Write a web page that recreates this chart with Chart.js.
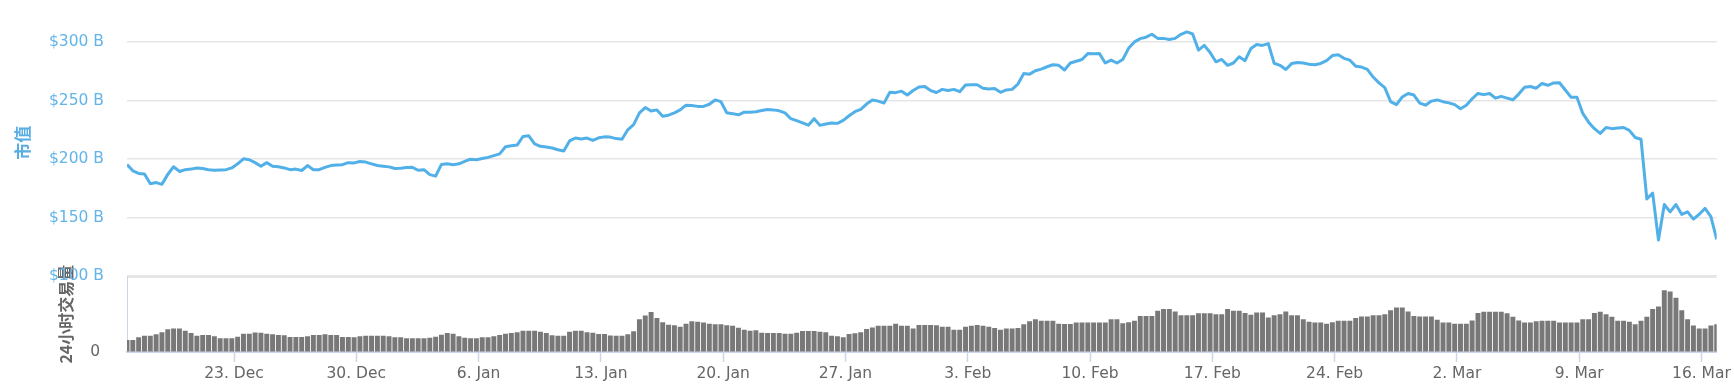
<!DOCTYPE html>
<html>
<head>
<meta charset="utf-8">
<script src="https://cdn.jsdelivr.net/npm/chart.js@4.4.1/dist/chart.umd.min.js"></script>
<style>
  html, body { margin: 0; padding: 0; background: #fff; }
  #wrap { width: 1734px; height: 389px; }
</style>
</head>
<body>
<div id="wrap"><canvas id="capChart"></canvas></div>
<script>
// first sample is 16 Dec 21:00, then one every 8 hours (x in days from 17 Dec)
const START_DAY = -0.125;
const STEP_DAY = 1 / 3;

// 市值, in $ B
const marketCap = [
    195.5, 190, 187.8, 187.3, 179, 180, 178.5, 187, 193.5, 189.5,
    191, 191.5, 192.5, 192, 191, 190.5, 190.8, 191, 192.5, 196,
    200.3, 199.5, 197, 194, 197, 194, 193.5, 192.5, 191, 191.5,
    190.3, 194.5, 191, 191, 193, 194.5, 195, 195.3, 197,
    196.8, 198, 197.5, 196, 194.6, 194, 193.4, 192, 192.3, 192.8,
    193, 190.5, 191, 186.8, 185.5, 195.5, 196, 195.3, 196, 198,
    200, 199.5, 200.5, 201.5, 203, 204.5, 210.5, 211.4, 212, 219.3,
    219.9, 213, 210.9, 210.3, 209.5, 208, 207, 215.5, 218,
    217.2, 218, 216, 218.2, 219, 218.8, 217.5, 217, 225, 229.5,
    239.5, 244, 241, 242, 236.5, 237.5, 239.5, 242, 246, 245.8,
    245, 245, 246.8, 250.5, 249, 239.5, 238.8, 237.8, 240, 240,
    240.5, 241.4, 242.3, 242, 241.2, 239.5, 234.5, 232.8, 231, 229,
    234.5, 228.8, 230, 230.8, 230.5, 233, 237, 240.5, 242.5, 247,
    250.5, 249.5, 247.8, 257, 256.7, 258, 254.7, 258.5, 261.5, 262,
    258.5, 256.8, 259.5, 258.5, 259.5, 257.5, 263.2, 263.5, 263.5, 260.5,
    259.8, 260.2, 257, 259, 259.5, 264, 273, 272.5, 275.4,
    276.8, 278.8, 280.5, 280, 276, 282, 283.5, 285, 290, 289.8,
    290, 282, 284.5, 282, 285, 294.5, 300, 302.8, 304, 306.5,
    303, 303, 302, 303, 306.5, 308.5, 306.8, 293, 297, 291,
    283, 285, 280, 282, 287.3, 284, 294.3, 297.8, 297, 298.5,
    281.8, 280, 276.5, 281.5, 282.5, 282, 281, 280.5, 281.6, 284,
    288.3, 289, 286, 284.4, 279.3, 278.5, 276.5, 270, 265, 261,
    249, 246.5, 253, 256, 254.7, 247.8, 246, 249.5, 250.5, 249,
    248, 246.5, 243, 246, 251.5, 256, 255, 256, 252, 253.5,
    252, 250.6, 255.5, 261.3, 262, 260.5, 264.5, 263, 265, 265.2,
    259, 252.7, 252.7, 239, 231.5, 226, 222, 227, 226, 226.5,
    227, 224.5, 218.5, 217, 166, 171, 131, 161.3, 155, 161.3,
    152.8, 155, 148.8, 153, 158, 151, 131.6
];

// 24小时交易量, in $ B
const volume24h = [
    47, 47, 58, 64, 64.5, 70, 78, 90, 93, 93,
    84, 75, 64.5, 67, 67, 62, 54, 54, 54, 60,
    72, 72, 77, 76, 72, 70, 67, 66, 59, 59,
    59, 62, 67, 67, 70, 67, 67, 59, 59,
    58, 62, 64.5, 64.5, 64.5, 64.5, 62, 58, 58, 54,
    54, 54, 54, 56, 60, 68, 75, 72, 62, 56,
    54, 54, 58, 58, 62, 67, 72, 75, 78, 84,
    84, 84, 80, 75, 66, 64.5, 64.5, 80, 84,
    84, 78, 76, 71, 71, 65, 64.5, 64.5, 70, 82,
    130, 145, 158, 135, 118, 108, 106, 100, 112, 122,
    120, 117, 112, 110, 110, 106, 104, 96, 88, 84,
    86, 76, 75, 75, 75, 72, 72, 76, 83, 83,
    83, 80, 77.6, 64.5, 62, 58, 71, 74, 77.6, 90.8,
    97, 104, 104, 104, 112, 104, 104, 93, 106.6, 106.6,
    106.6, 106, 100, 100, 88, 88, 100, 104, 106.6, 104,
    100, 95, 88, 93, 93, 95, 110, 122, 130,
    124, 124, 124, 112, 110.5, 110.5, 117, 117, 117, 117,
    117, 117, 130, 130, 114, 118, 124, 143, 143, 143,
    163, 170, 170, 160, 146, 146, 146, 154, 154, 154,
    150, 150, 170, 163, 163, 155, 148, 157, 157, 137,
    146, 150, 160, 146, 146, 130, 120, 117, 117, 112,
    118, 124, 124, 124, 135, 141, 141, 146, 146, 150,
    165, 176, 176, 160, 143, 141, 141, 141, 128, 117,
    117, 112, 112, 112, 125, 155, 159, 159, 159, 159,
    154, 140, 125, 117, 117, 122, 124, 124, 124, 117,
    117, 117, 117, 130, 130, 155, 159, 150, 140, 124,
    124, 120, 110, 124, 140, 170, 180, 245, 240, 215,
    165, 130, 105, 93, 93, 105, 110
];

// x 轴刻度 (days from 17 Dec)
const tickDays = [6, 13, 20, 27, 34, 41, 48, 55, 62, 69, 76, 83, 90];
const tickLabels = ['23. Dec', '30. Dec', '6. Jan', '13. Jan', '20. Jan', '27. Jan', '3. Feb',
    '10. Feb', '17. Feb', '24. Feb', '2. Mar', '9. Mar', '16. Mar'];

const capTicks = [100, 150, 200, 250, 300];
const volumeTicks = [0];

const labelFont = { family: 'DejaVu Sans', size: 15.5 };
const cjkFont = '"Noto Sans CJK SC", "DejaVu Sans", sans-serif';

function toPoints(values) {
    return values.map((v, i) => ({ x: START_DAY + i * STEP_DAY, y: v }));
}

const ctx = document.getElementById('capChart').getContext('2d');

new Chart(ctx, {
    type: 'bar',
    data: {
        datasets: [{
            type: 'line',
            label: '市值',
            data: toPoints(marketCap),
            yAxisID: 'y',
            borderColor: '#52b0e8',
            borderWidth: 3,
            borderJoinStyle: 'round',
            pointRadius: 0,
            tension: 0,
            fill: false
        }, {
            type: 'bar',
            label: '24小时交易量',
            data: toPoints(volume24h),
            yAxisID: 'y2',
            backgroundColor: '#787878',
            borderWidth: 0,
            barPercentage: 0.85,
            categoryPercentage: 1
        }]
    },
    options: {
        responsive: true,
        maintainAspectRatio: false,
        animation: false,
        layout: {
            padding: { left: 0, right: 17, top: 0, bottom: 2.5 }
        },
        plugins: {
            legend: { display: false },
            tooltip: { enabled: false }
        },
        scales: {
            x: {
                type: 'linear',
                min: START_DAY,
                max: START_DAY + (marketCap.length - 1) * STEP_DAY,
                offset: false,
                afterBuildTicks: axis => {
                    axis.ticks = tickDays.map(d => ({ value: d }));
                },
                ticks: {
                    autoSkip: false,
                    maxRotation: 0,
                    color: '#666666',
                    font: labelFont,
                    padding: 3,
                    callback: (value, index) => tickLabels[index]
                },
                grid: {
                    offset: false,
                    drawOnChartArea: false,
                    drawTicks: true,
                    tickLength: 10,
                    tickWidth: 1.5,
                    tickColor: '#ccd6eb'
                },
                border: { display: true, color: '#ccd6eb', width: 2 }
            },
            // 上面的市值面板 (higher weight = placed first in the left stack)
            // label gap is done with an invisible tick mark, ticks.padding would also pad the pane vertically
            y: {
                position: 'left',
                weight: 1,
                stack: 'panes',
                stackWeight: 268.4,
                min: 100,
                max: 327.8,
                afterBuildTicks: axis => {
                    axis.ticks = capTicks.map(v => ({ value: v }));
                },
                ticks: {
                    color: '#62b4e9',
                    font: labelFont,
                    padding: 0,
                    callback: v => '$' + v + ' B'
                },
                grid: {
                    color: '#e6e6e6',
                    lineWidth: c => (c.tick && c.tick.value === 100 ? 3 : 1.5),
                    drawTicks: true,
                    tickLength: 23,
                    tickColor: 'rgba(0,0,0,0)'
                },
                border: { display: false },
                title: {
                    display: true,
                    text: '市值',
                    color: '#58ade3',
                    font: { family: cjkFont, size: 17, weight: 'bold' },
                    padding: { top: 12, bottom: 16.6 }
                }
            },
            // 下面的交易量面板
            y2: {
                position: 'left',
                weight: 0,
                stack: 'panes',
                stackWeight: 75.9,
                min: 0,
                max: 300,
                afterBuildTicks: axis => {
                    axis.ticks = volumeTicks.map(v => ({ value: v }));
                },
                ticks: {
                    color: '#666666',
                    font: labelFont,
                    padding: 0
                },
                grid: {
                    drawOnChartArea: false,
                    drawTicks: true,
                    tickLength: 27,
                    tickColor: 'rgba(0,0,0,0)'
                },
                border: { display: true, color: '#ccd6eb', width: 1 },
                title: {
                    display: true,
                    text: '24小时交易量',
                    color: '#666666',
                    font: { family: cjkFont, size: 16, weight: 'bold' },
                    padding: { top: 56, bottom: 0 }
                }
            }
        }
    }
});
</script>
</body>
</html>
